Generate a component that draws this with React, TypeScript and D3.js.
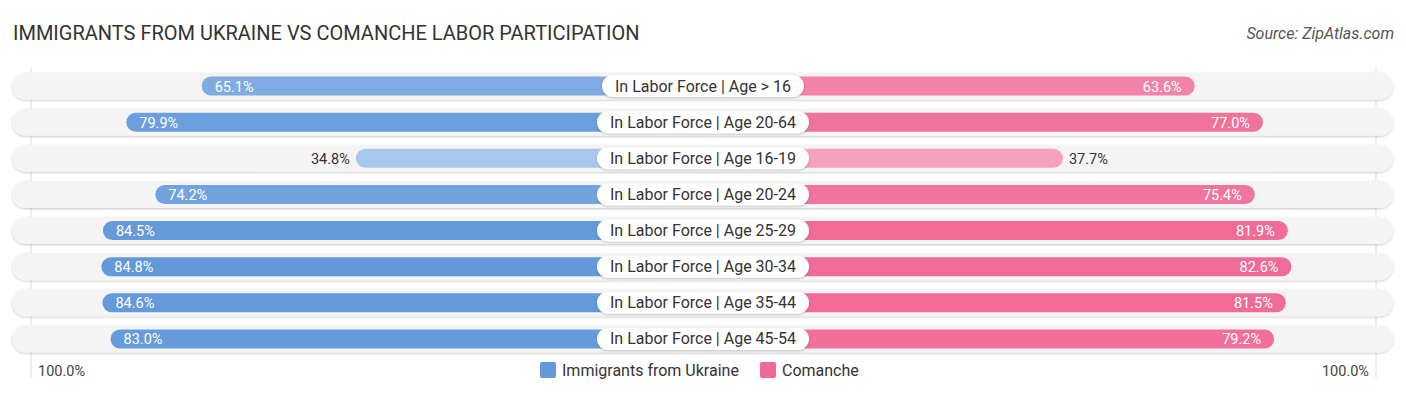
import { useEffect, useRef } from 'react';
import * as d3 from 'd3';

const categories = [
  'In Labor Force | Age > 16',
  'In Labor Force | Age 20-64',
  'In Labor Force | Age 16-19',
  'In Labor Force | Age 20-24',
  'In Labor Force | Age 25-29',
  'In Labor Force | Age 30-34',
  'In Labor Force | Age 35-44',
  'In Labor Force | Age 45-54',
];
const ukraine = [65.1, 79.9, 34.8, 74.2, 84.5, 84.8, 84.6, 83.0];
const comanche = [63.6, 77.0, 37.7, 75.4, 81.9, 82.6, 81.5, 79.2];
const seriesNames = ['Immigrants from Ukraine', 'Comanche'];

const W = 1406;
const H = 395;
const FONT = 'Roboto, "Open Sans", sans-serif';

const App = () => {
  const svgRef = useRef<SVGSVGElement>(null);

  useEffect(() => {
    if (!svgRef.current) return;
    const svg = d3.select(svgRef.current);
    svg.selectAll('*').remove();

    const center = 702;
    const gap = 169;
    const span = 509;
    const left = d3.scaleLinear().domain([0, 100]).range([center - gap, center - gap - span]);
    const right = d3.scaleLinear().domain([0, 100]).range([center + gap, center + gap + span]);
    const y = d3.scaleBand<number>().domain(d3.range(categories.length)).range([68, 357]).padding(0);

    const blueC = d3.scaleLinear<string>().domain([30, 85]).range(['#adcbee', '#6399da']);
    const pinkC = d3.scaleLinear<string>().domain([30, 85]).range(['#f7abc4', '#f06894']);

    const defs = svg.append('defs');
    const f = defs.append('filter').attr('id', 'sh').attr('x', '-5%').attr('y', '-30%').attr('width', '110%').attr('height', '160%');
    f.append('feDropShadow').attr('dx', 0).attr('dy', 1).attr('stdDeviation', 1.2).attr('flood-color', '#000').attr('flood-opacity', 0.22);

    svg.append('text').attr('x', 13).attr('y', 40).attr('font-family', FONT).attr('font-size', 20)
      .attr('fill', '#333').text('IMMIGRANTS FROM UKRAINE VS COMANCHE LABOR PARTICIPATION');
    svg.append('text').attr('x', 1394).attr('y', 39).attr('text-anchor', 'end').attr('font-family', FONT)
      .attr('font-size', 16).attr('font-style', 'italic').attr('fill', '#555').text('Source: ZipAtlas.com');

    // guide lines
    [31, 1376].forEach((gx) => {
      svg.append('line').attr('x1', gx).attr('x2', gx).attr('y1', 68).attr('y2', 378)
        .attr('stroke', '#ddd').attr('stroke-width', 1);
    });

    const rows = svg.append('g').selectAll('g').data(categories).join('g')
      .attr('transform', (_, i) => `translate(0,${(y(i) ?? 0) + y.bandwidth() / 2})`);

    const bgH = 27;
    rows.append('rect').attr('x', 12).attr('y', -bgH / 2).attr('width', 1381).attr('height', bgH)
      .attr('rx', bgH / 2).attr('fill', '#f4f4f4').attr('filter', 'url(#sh)');

    const bh = 19;
    rows.append('rect')
      .attr('x', (_, i) => left(ukraine[i]))
      .attr('y', -bh / 2).attr('height', bh)
      .attr('width', (_, i) => center - left(ukraine[i]))
      .attr('rx', bh / 2).attr('fill', (_, i) => blueC(ukraine[i]));
    rows.append('rect')
      .attr('x', center)
      .attr('y', -bh / 2).attr('height', bh)
      .attr('width', (_, i) => right(comanche[i]) - center)
      .attr('rx', bh / 2).attr('fill', (_, i) => pinkC(comanche[i]));

    // category pills
    rows.each(function (d) {
      const g = d3.select(this);
      const t = g.append('text').attr('x', center + 1).attr('y', 5.5).attr('text-anchor', 'middle')
        .attr('font-family', FONT).attr('font-size', 16).attr('fill', '#333').text(d);
      const w = (t.node() as SVGTextElement).getComputedTextLength() + 26;
      g.insert('rect', 'text').attr('x', center + 1 - w / 2).attr('y', -11).attr('width', w).attr('height', 22)
        .attr('rx', 11).attr('fill', '#fff').attr('filter', 'url(#sh)');
    });

    // value labels
    rows.append('text')
      .attr('x', (_, i) => (ukraine[i] > 50 ? left(ukraine[i]) + 13 : left(ukraine[i]) - 6))
      .attr('y', 5.5)
      .attr('text-anchor', (_, i) => (ukraine[i] > 50 ? 'start' : 'end'))
      .attr('font-family', FONT).attr('font-size', 14.5)
      .attr('fill', (_, i) => (ukraine[i] > 50 ? '#fff' : '#333'))
      .text((_, i) => `${ukraine[i].toFixed(1)}%`);
    rows.append('text')
      .attr('x', (_, i) => (comanche[i] > 50 ? right(comanche[i]) - 13 : right(comanche[i]) + 6))
      .attr('y', 5.5)
      .attr('text-anchor', (_, i) => (comanche[i] > 50 ? 'end' : 'start'))
      .attr('font-family', FONT).attr('font-size', 14.5)
      .attr('fill', (_, i) => (comanche[i] > 50 ? '#fff' : '#333'))
      .text((_, i) => `${comanche[i].toFixed(1)}%`);

    // axis ends
    svg.append('text').attr('x', 38).attr('y', 376).attr('font-family', FONT).attr('font-size', 14.5)
      .attr('fill', '#444').text('100.0%');
    svg.append('text').attr('x', 1369).attr('y', 376).attr('text-anchor', 'end').attr('font-family', FONT)
      .attr('font-size', 14.5).attr('fill', '#444').text('100.0%');

    // legend
    const legend = [
      { name: seriesNames[0], color: '#6399da', x: 540 },
      { name: seriesNames[1], color: '#f06894', x: 760 },
    ];
    legend.forEach((l) => {
      svg.append('rect').attr('x', l.x).attr('y', 362).attr('width', 16).attr('height', 16).attr('rx', 2)
        .attr('fill', l.color);
      svg.append('text').attr('x', l.x + 22).attr('y', 376).attr('font-family', FONT).attr('font-size', 16)
        .attr('fill', '#333').text(l.name);
    });
  }, []);

  return <svg ref={svgRef} width={W} height={H} style={{ display: 'block', margin: '-8px' }}></svg>;
};

export default App;
